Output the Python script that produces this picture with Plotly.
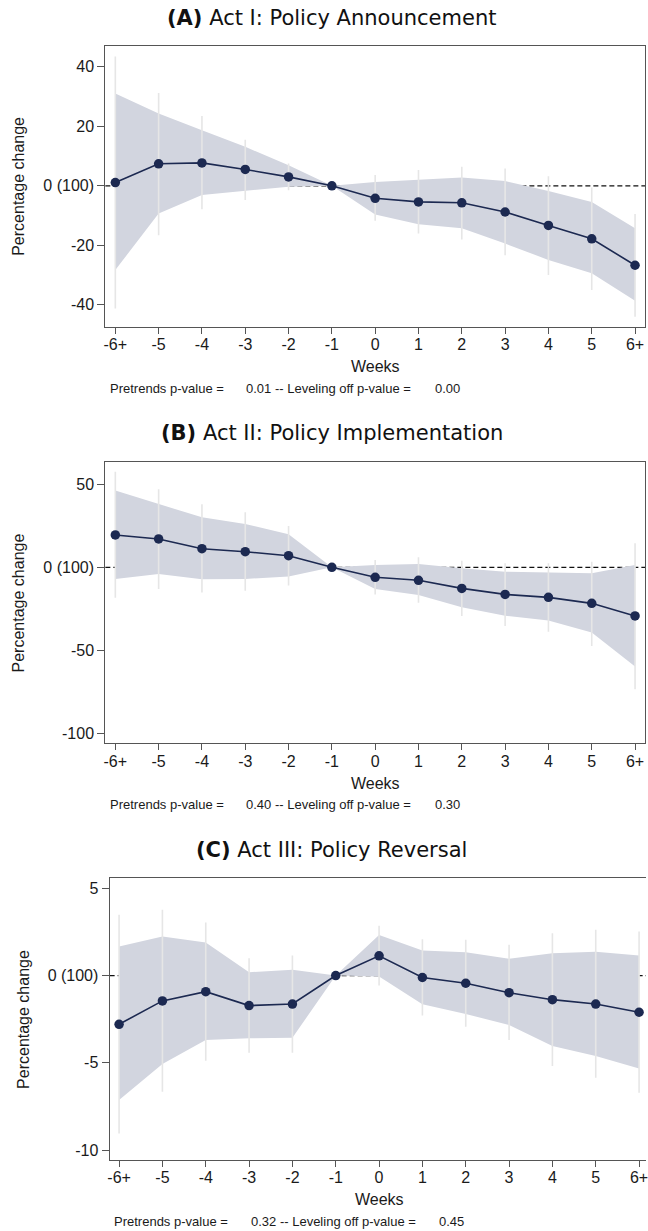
import plotly.graph_objects as go

W, H = 648, 1231

weeks = ["-6+", "-5", "-4", "-3", "-2", "-1", "0", "1", "2", "3", "4", "5", "6+"]
xpos = list(range(len(weeks)))

# Panel A: Act I
a_est = [1.1, 7.4, 7.7, 5.5, 3.0, 0.0, -4.2, -5.4, -5.7, -8.8, -13.3, -17.8, -26.7]
a_band_hi = [31.0, 24.3, 18.7, 13.1, 6.9, 0.0, 1.3, 2.1, 2.8, 1.6, -1.7, -5.4, -14.3]
a_band_lo = [-28.3, -9.3, -3.1, -1.7, -0.3, 0.0, -9.6, -12.9, -14.3, -19.4, -24.9, -29.4, -38.6]
a_ci_hi = [43.5, 31.2, 23.5, 15.5, 7.5, None, 3.6, 5.3, 6.4, 5.8, 3.2, -0.6, -9.5]
a_ci_lo = [-41.2, -16.6, -7.9, -4.8, -1.5, None, -11.7, -16.0, -18.0, -23.3, -30.0, -35.0, -44.0]

# Panel B: Act II
b_est = [19.5, 17.1, 11.2, 9.4, 7.0, 0.0, -6.0, -7.8, -12.7, -16.3, -18.1, -21.7, -29.3]
b_band_hi = [46.2, 38.2, 30.1, 26.1, 19.9, 0.0, 1.4, 2.0, -0.6, -2.6, -3.0, -3.6, 1.4]
b_band_lo = [-7.0, -4.0, -7.2, -7.0, -5.6, 0.0, -13.1, -16.7, -24.1, -29.1, -32.1, -39.2, -59.8]
b_ci_hi = [57.6, 47.0, 38.0, 33.1, 24.9, None, 4.4, 6.0, 4.0, 2.4, 2.4, 3.4, 14.5]
b_ci_lo = [-18.3, -13.1, -15.1, -14.1, -11.0, None, -16.3, -21.3, -29.3, -35.3, -38.8, -47.4, -73.5]

# Panel C: Act III
c_est = [-2.79, -1.45, -0.92, -1.72, -1.63, 0.0, 1.13, -0.11, -0.44, -0.98, -1.38, -1.63, -2.10]
c_band_hi = [1.66, 2.24, 1.89, 0.19, 0.33, 0.0, 2.33, 1.43, 1.34, 0.96, 1.28, 1.36, 1.15]
c_band_lo = [-7.13, -5.07, -3.69, -3.59, -3.56, 0.0, -0.06, -1.64, -2.20, -2.83, -4.03, -4.61, -5.32]
c_ci_hi = [3.48, 3.77, 3.04, 0.99, 1.15, None, 2.85, 2.08, 2.05, 1.76, 2.43, 2.62, 2.52]
c_ci_lo = [-9.04, -6.65, -4.88, -4.42, -4.42, None, -0.57, -2.29, -2.93, -3.69, -5.18, -5.85, -6.71]

titles = ["<b>(A)</b> Act I: Policy Announcement",
          "<b>(B)</b> Act II: Policy Implementation",
          "<b>(C)</b> Act III: Policy Reversal"]
pvals = [("0.01", "0.00"), ("0.40", "0.30"), ("0.32", "0.45")]
yticks = [[40, 20, 0, -20, -40], [50, 0, -50, -100], [5, 0, -5, -10]]

NAVY = "#1c2951"
BAND = "#d2d5df"
WHISK = "#e6e6e6"
AX = "#555555"
TXT = "#1a1a1a"
SANS = "Liberation Sans, Arial, sans-serif"
TFONT = "DejaVu Sans, Open Sans, sans-serif"

panels = [
    dict(left=104.0, right=647.0, top=45.7, bottom=326.7, yr=[-47.35, 47.1], xr=[-0.23, 12.23],
         est=a_est, bh=a_band_hi, bl=a_band_lo, ch=a_ci_hi, cl=a_ci_lo, ttl_y=18.3, right_line=True),
    dict(left=104.0, right=647.0, top=462.4, bottom=743.3, yr=[-106.0, 63.2], xr=[-0.23, 12.23],
         est=b_est, bh=b_band_hi, bl=b_band_lo, ch=b_ci_hi, cl=b_ci_lo, ttl_y=433.3, right_line=True),
    dict(left=108.3, right=648.0, top=878.3, bottom=1159.8, yr=[-10.55, 5.57], xr=[-0.218, 12.16],
         est=c_est, bh=c_band_hi, bl=c_band_lo, ch=c_ci_hi, cl=c_ci_lo, ttl_y=850.0, right_line=False),
]

def px_x(p):
    return p / W

def px_y(p):
    return 1 - p / H

fig = go.Figure()
annotations = []
shapes = []
layout_axes = {}

for i, P in enumerate(panels):
    n = i + 1
    xa = "x" if n == 1 else f"x{n}"
    ya = "y" if n == 1 else f"y{n}"
    xkey = "xaxis" if n == 1 else f"xaxis{n}"
    ykey = "yaxis" if n == 1 else f"yaxis{n}"

    fig.add_trace(go.Scatter(x=xpos, y=P["bh"], mode="lines", line=dict(width=0, color=BAND),
                             xaxis=xa, yaxis=ya, showlegend=False, hoverinfo="skip"))
    fig.add_trace(go.Scatter(x=xpos, y=P["bl"], mode="lines", line=dict(width=0, color=BAND),
                             fill="tonexty", fillcolor=BAND,
                             xaxis=xa, yaxis=ya, showlegend=False, hoverinfo="skip"))
    wx, wy = [], []
    for xv, lo, hi in zip(xpos, P["cl"], P["ch"]):
        if lo is None or hi is None:
            continue
        wx += [xv, xv, None]
        wy += [lo, hi, None]
    fig.add_trace(go.Scatter(x=wx, y=wy, mode="lines", line=dict(width=1.6, color=WHISK),
                             xaxis=xa, yaxis=ya, showlegend=False, hoverinfo="skip", connectgaps=False))
    fig.add_trace(go.Scatter(x=xpos, y=P["est"], mode="lines+markers",
                             line=dict(width=1.6, color=NAVY),
                             marker=dict(size=9.5, color=NAVY),
                             xaxis=xa, yaxis=ya, showlegend=False))

    layout_axes[xkey] = dict(
        domain=[px_x(P["left"]), min(1.0, px_x(P["right"]))],
        range=P["xr"], anchor=ya, tickmode="array", tickvals=xpos, ticktext=weeks,
        showgrid=False, zeroline=False, showline=True, linecolor=AX, linewidth=1.2,
        mirror=True, ticks="outside", ticklen=6, tickcolor=AX, tickwidth=1.2,
        tickfont=dict(family=SANS, size=16, color=TXT), ticklabeloverflow="allow",
        ticklabelstandoff=-3,
    )
    layout_axes[ykey] = dict(
        domain=[px_y(P["bottom"]), px_y(P["top"])],
        range=P["yr"], anchor=xa, tickmode="array", tickvals=yticks[i],
        ticktext=["0 (100)" if v == 0 else str(v) for v in yticks[i]],
        showgrid=False, zeroline=False, showline=True, linecolor=AX, linewidth=1.2,
        mirror=P["right_line"], ticks="outside", ticklen=7, tickcolor=AX, tickwidth=1.2,
        tickfont=dict(family=SANS, size=16, color=TXT),
    )

    shapes.append(dict(type="line", xref=f"{xa} domain", yref=ya, x0=0, x1=1, y0=0, y1=0,
                       line=dict(color="#111111", width=1.3, dash="5px,3px"), layer="below"))

    annotations.append(dict(text=titles[i], x=px_x(331.6), y=px_y(P["ttl_y"]), xref="paper", yref="paper",
                            xanchor="center", yanchor="middle", showarrow=False,
                            font=dict(family=TFONT, size=21, color="#111111")))
    dx = P["left"] - 104.0
    annotations.append(dict(text="Percentage change", x=px_x(16.7 + dx), y=px_y((P["top"] + P["bottom"]) / 2),
                            xref="paper", yref="paper", xanchor="center", yanchor="middle",
                            textangle=-90, showarrow=False, font=dict(family=SANS, size=16, color=TXT)))
    annotations.append(dict(text="Weeks", x=px_x((P["left"] + P["left"] + 543.0) / 2),
                            y=px_y(P["bottom"] + 40.0), xref="paper", yref="paper",
                            xanchor="center", yanchor="middle", showarrow=False,
                            font=dict(family=SANS, size=16, color=TXT)))
    ny = px_y(P["bottom"] + 61.6)
    pre, lev = pvals[i]
    for txt, xx in [("Pretrends p-value =", 106.3), (f"{pre} -- Leveling off p-value =", 243.8), (lev, 433.9)]:
        annotations.append(dict(text=txt, x=px_x(xx + dx), y=ny, xref="paper", yref="paper",
                                xanchor="left", yanchor="middle", showarrow=False,
                                font=dict(family=SANS, size=13, color=TXT)))

fig.update_layout(
    width=W, height=H, margin=dict(l=0, r=0, t=0, b=0),
    paper_bgcolor="white", plot_bgcolor="white",
    annotations=annotations, shapes=shapes, showlegend=False,
    **layout_axes,
)

fig.write_html("out.html", config={"displayModeBar": False},
               post_script="document.body.style.margin='0';document.body.style.padding='0';"
                           "document.body.style.overflow='hidden';")
